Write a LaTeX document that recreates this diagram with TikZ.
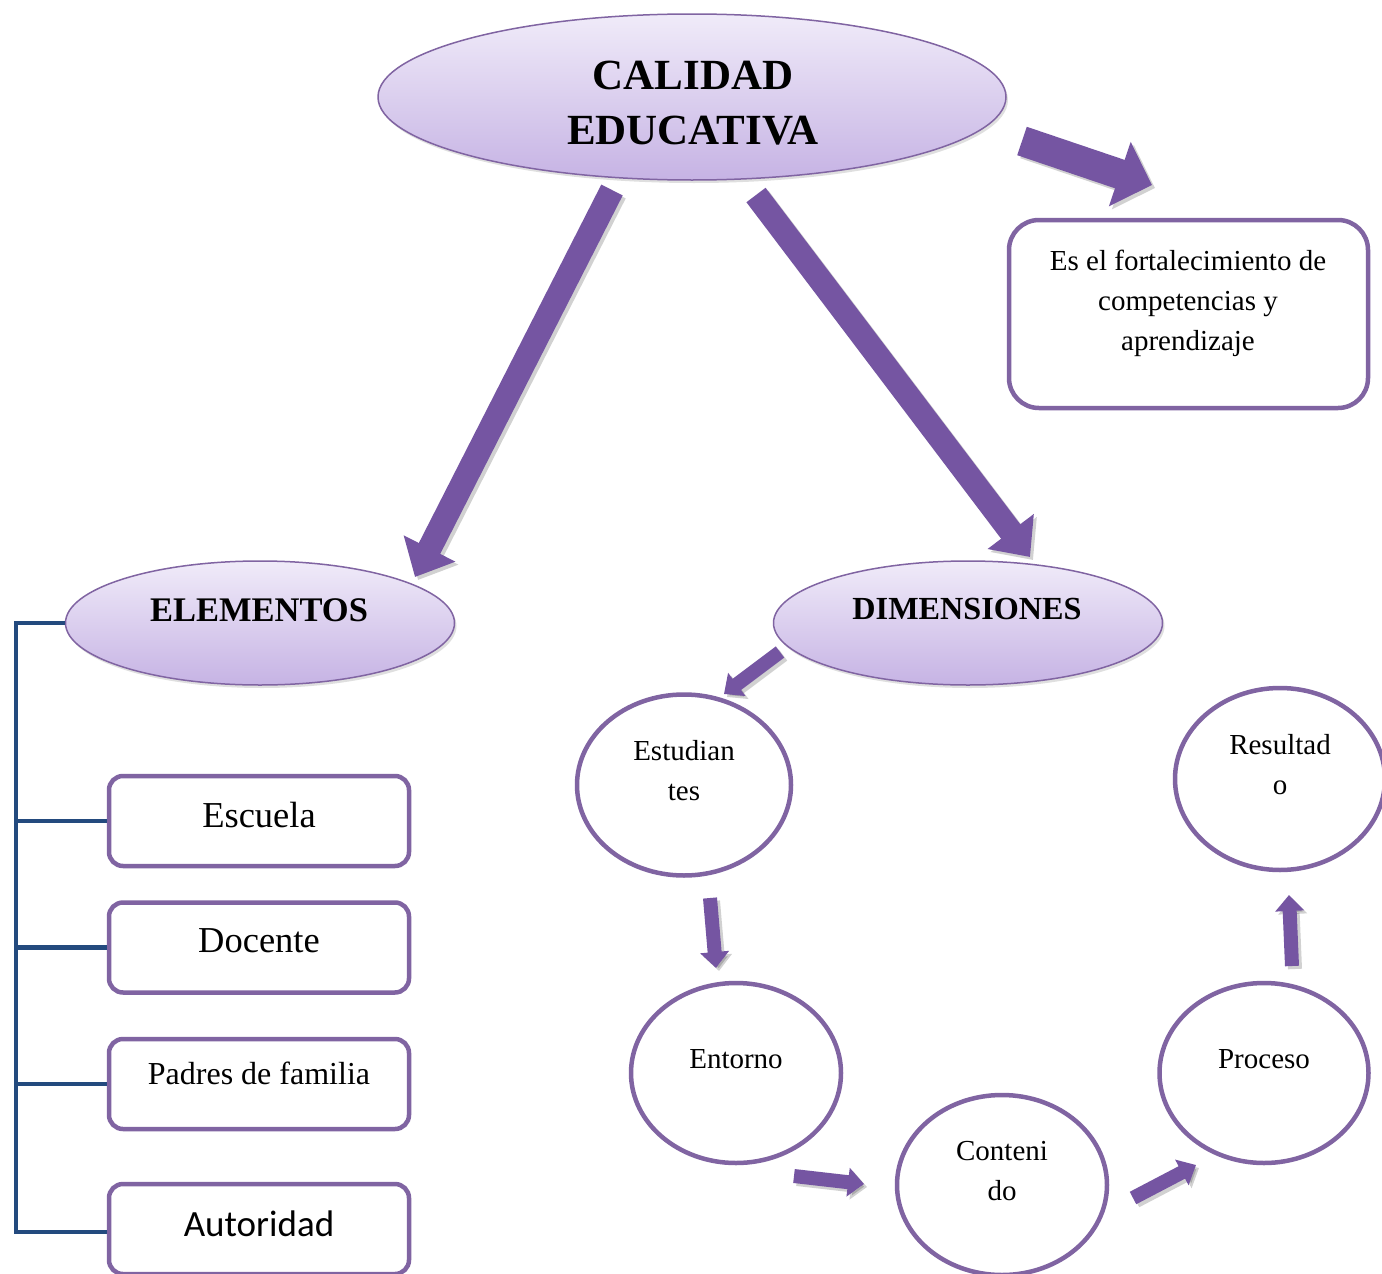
\documentclass[tikz,border=0pt]{standalone}
\usepackage{fontspec}
\setmainfont{Liberation Serif}
\newfontfamily\calib{Carlito}
\usetikzlibrary{shapes.geometric,arrows.meta,shadows}
\definecolor{pborder}{HTML}{8064A2}
\definecolor{plight}{HTML}{F0EBF9}
\definecolor{pdark}{HTML}{C6B3E4}
\definecolor{parrow}{HTML}{7555A2}
\definecolor{bline}{HTML}{234A7E}
\begin{document}
\begin{tikzpicture}[x=1pt,y=-1pt,
  oval/.style={ellipse, draw=pborder, line width=1.5pt, top color=plight, bottom color=pdark, inner sep=0pt,
    drop shadow={shadow xshift=2pt,shadow yshift=-3pt,opacity=0.25}},
  ring/.style={ellipse, draw=pborder, line width=4.5pt, fill=white, inner sep=0pt},
  rbox/.style={rectangle, draw=pborder, line width=4.5pt, fill=white, rounded corners=14pt, inner sep=0pt},
  txt/.style={inner sep=0pt, align=center},
  bigarr/.style={draw=parrow, line width=24pt, -{Triangle[length=32pt,width=56pt]}},
  midarr/.style={draw=parrow, line width=30pt, -{Triangle[length=34pt,width=66pt]}},
  smallarr/.style={draw=parrow, line width=14pt, -{Triangle[length=16pt,width=28pt]}},
  shad/.style={draw=black, opacity=0.18, transform canvas={shift={(3pt,-3pt)}}},
  bl/.style={draw=bline, line width=4.5pt}]
\useasboundingbox (0,0) rectangle (1382,1274);
\fill[white] (0,0) rectangle (1382,1274);

% main ellipses
\node[oval, minimum width=628pt, minimum height=166pt] (top) at (692,97) {};
\node[txt, font=\bfseries\fontsize{43}{55}\selectfont] (topT) at (693,103) {CALIDAD\\EDUCATIVA};

\node[oval, minimum width=389pt, minimum height=124pt] (elem) at (260,623) {};
\node[txt, font=\bfseries\fontsize{34.5}{38}\selectfont] (elemT) at (259,610) {ELEMENTOS};

\node[oval, minimum width=389pt, minimum height=124pt] (dim) at (968,623) {};
\node[txt, font=\bfseries\fontsize{32.2}{38}\selectfont] (dimT) at (967,609) {DIMENSIONES};

% definition box
\node[rbox, rounded corners=30pt, minimum width=359pt, minimum height=188pt] (def) at (1188.5,314) {};
\node[txt, font=\fontsize{29}{40}\selectfont] (defT) at (1188,303) {Es el fortalecimiento de\\competencias y\\aprendizaje};

% element boxes
\node[rbox, minimum width=300pt, minimum height=90pt] (esc) at (259,821) {};
\node[txt, font=\fontsize{36.5}{40}\selectfont] (escT) at (259,815) {Escuela};
\node[rbox, minimum width=300pt, minimum height=90pt] (doc) at (259,947.5) {};
\node[txt, font=\fontsize{36.5}{40}\selectfont] (docT) at (259,941) {Docente};
\node[rbox, minimum width=300pt, minimum height=90pt] (pad) at (259,1084) {};
\node[txt, font=\fontsize{32}{36}\selectfont] (padT) at (259,1073) {Padres de familia};
\node[rbox, minimum width=300pt, minimum height=90pt] (aut) at (259,1229) {};
\node[txt, font=\calib\fontsize{37}{40}\selectfont] (autT) at (259,1224) {Autoridad};

% blue bracket
\coordinate (bt) at (16,623);
\coordinate (bb) at (16,1232);
\draw[bl] (elem.west) -- (bt) -- (bb) -- (bb -| aut.west);
\draw[bl] (esc.west) -- (esc.west -| bt);
\draw[bl] (doc.west) -- (doc.west -| bt);
\draw[bl] (pad.west) -- (pad.west -| bt);

% dimension circles
\node[ring, minimum width=214pt, minimum height=181pt] (est) at (684,785) {};
\node[txt, font=\fontsize{29}{40}\selectfont] (estT) at (684,771) {Estudian\\tes};
\node[ring, minimum width=210pt, minimum height=180pt] (ent) at (736,1073) {};
\node[txt, font=\fontsize{29}{40}\selectfont] (entT) at (736,1059) {Entorno};
\node[ring, minimum width=210pt, minimum height=180pt] (con) at (1002,1185) {};
\node[txt, font=\fontsize{29}{40}\selectfont] (conT) at (1002,1171) {Conteni\\do};
\node[ring, minimum width=209pt, minimum height=180pt] (pro) at (1264,1073) {};
\node[txt, font=\fontsize{29}{40}\selectfont] (proT) at (1264,1059) {Proceso};
\node[ring, minimum width=210pt, minimum height=182pt] (res) at (1280,779) {};
\node[txt, font=\fontsize{29}{40}\selectfont] (resT) at (1280,765) {Resultad\\o};

% arrow end points
\coordinate (a1s) at (612,190);  \coordinate (a1e) at (415,577);
\coordinate (a2s) at (756,195);  \coordinate (a2e) at (1030,557);
\coordinate (a3s) at (1022,141); \coordinate (a3e) at (1152,185);
\coordinate (a4s) at (780,652);  \coordinate (a4e) at (724,694);
\coordinate (a5s) at (710,898);  \coordinate (a5e) at (716,968);
\coordinate (a6s) at (794,1176); \coordinate (a6e) at (864,1184);
\coordinate (a7s) at (1133,1198);\coordinate (a7e) at (1196,1165);
\coordinate (a8s) at (1292,966); \coordinate (a8e) at (1289,895);

% shadows
\draw[bigarr, shad] (a1s) -- (a1e);
\draw[bigarr, shad] (a2s) -- (a2e);
\draw[midarr, shad] (a3s) -- (a3e);
\draw[smallarr, shad] (a4s) -- (a4e);
\draw[smallarr, shad] (a5s) -- (a5e);
\draw[smallarr, shad] (a6s) -- (a6e);
\draw[smallarr, shad] (a7s) -- (a7e);
\draw[smallarr, shad] (a8s) -- (a8e);

\draw[bigarr] (a1s) -- (a1e);
\draw[bigarr] (a2s) -- (a2e);
\draw[midarr] (a3s) -- (a3e);
\draw[smallarr] (a4s) -- (a4e);
\draw[smallarr] (a5s) -- (a5e);
\draw[smallarr] (a6s) -- (a6e);
\draw[smallarr] (a7s) -- (a7e);
\draw[smallarr] (a8s) -- (a8e);
\end{tikzpicture}
\end{document}
